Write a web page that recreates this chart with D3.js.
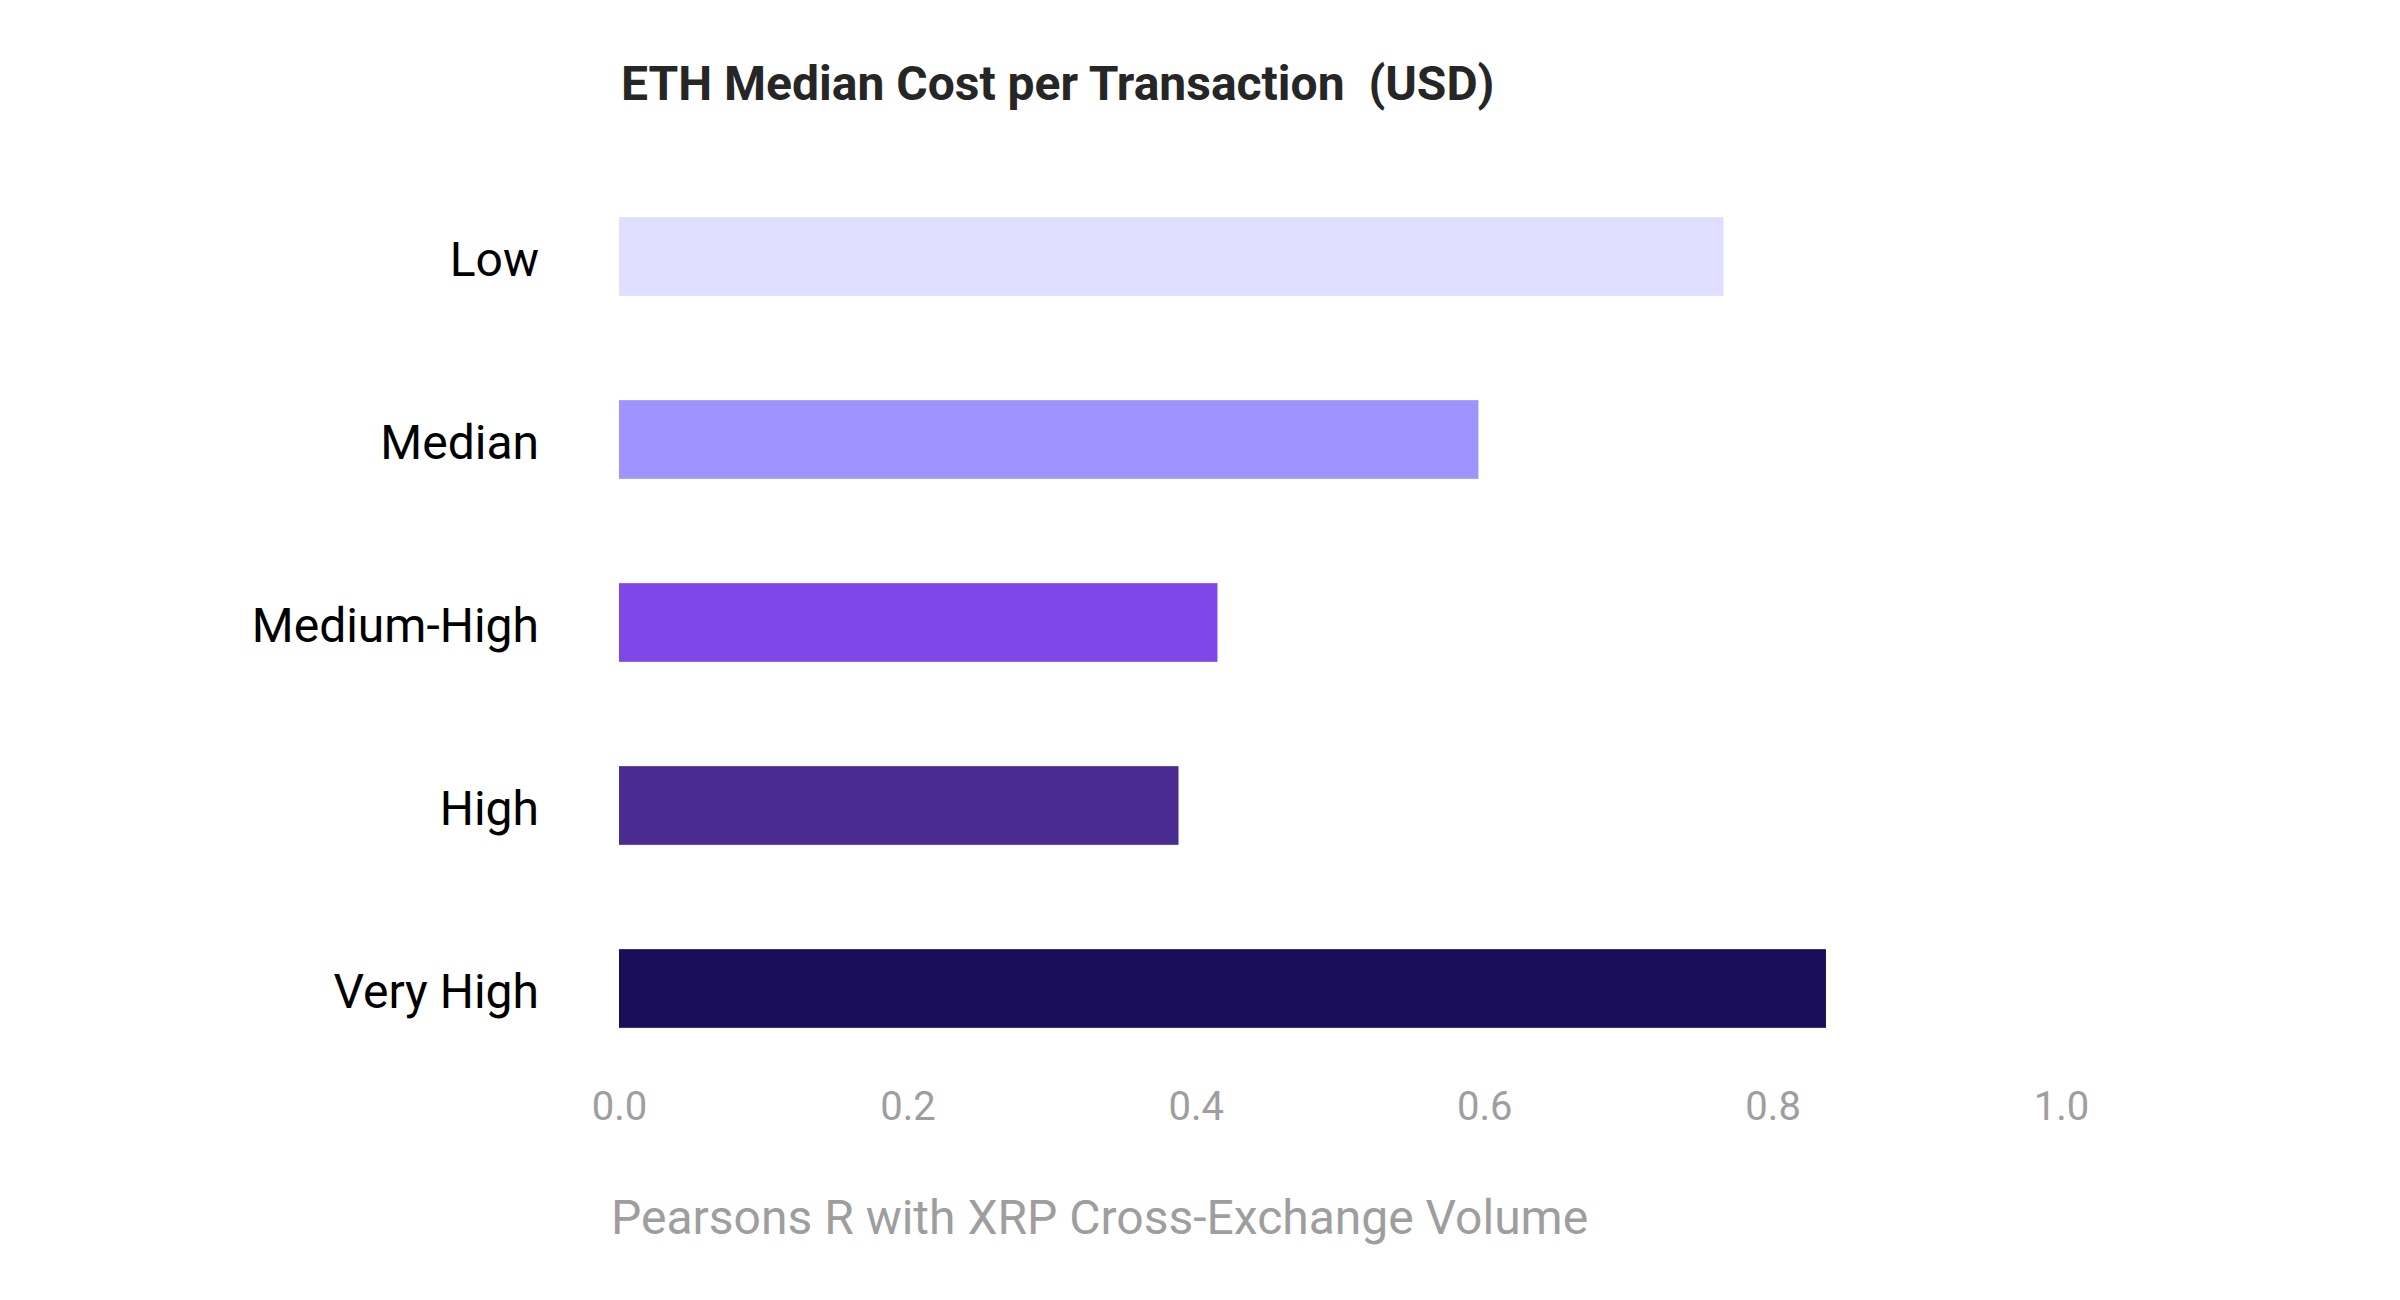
<!DOCTYPE html>
<html>
<head>
<meta charset="utf-8">
<script src="https://cdn.jsdelivr.net/npm/d3@7"></script>
<style>
  html, body { margin: 0; padding: 0; background: #fff; }
  svg { display: block; font-family: Roboto, "Noto Sans", sans-serif; }
</style>
</head>
<body>
<svg id="chart" width="2400" height="1300"></svg>
<script>
const categories = ["Low", "Median", "Medium-High", "High", "Very High"];
const values = [0.766, 0.596, 0.415, 0.388, 0.837];
const colors = ["#e1dfff", "#9f94ff", "#7f47e8", "#4a2b92", "#1a0d59"];
const xTicks = [0, 0.2, 0.4, 0.6, 0.8, 1.0];
const title = "ETH Median Cost per Transaction  (USD)";
const xLabel = "Pearsons R with XRP Cross-Exchange Volume";

const svg = d3.select("#chart");
const x = d3.scaleLinear().domain([0, 1]).range([619, 2061]);
const y = d3.scaleBand().domain(categories).range([165, 1080])
  .paddingInner(0.57).paddingOuter(0.285);

svg.append("text")
  .attr("x", 621).attr("y", 100)
  .attr("font-size", 48).attr("font-weight", 700).attr("fill", "#262626")
  .style("white-space", "pre")
  .text(title);

svg.selectAll("rect.bar").data(categories).join("rect")
  .attr("class", "bar")
  .attr("x", x(0))
  .attr("y", d => y(d))
  .attr("width", (d, i) => x(values[i]) - x(0))
  .attr("height", y.bandwidth())
  .attr("fill", (d, i) => colors[i]);

const yAxis = svg.append("g").attr("transform", `translate(${x(0) - 80},0)`)
  .call(d3.axisLeft(y).tickSize(0).tickPadding(0));
yAxis.select(".domain").remove();
yAxis.selectAll("text").attr("font-size", 48).attr("fill", "#000")
  .attr("dy", "0.4em")
  .attr("font-family", "Roboto, sans-serif");

const xAxis = svg.append("g").attr("transform", `translate(0,1080)`)
  .call(d3.axisBottom(x).tickValues(xTicks).tickFormat(d3.format(".1f")).tickSize(0).tickPadding(12));
xAxis.select(".domain").remove();
xAxis.selectAll("text").attr("font-size", 40).attr("fill", "#9e9e9e")
  .attr("font-family", "Roboto, sans-serif");

svg.append("text")
  .attr("x", 611).attr("y", 1234)
  .attr("font-size", 48).attr("fill", "#9e9e9e")
  .text(xLabel);
</script>
</body>
</html>
